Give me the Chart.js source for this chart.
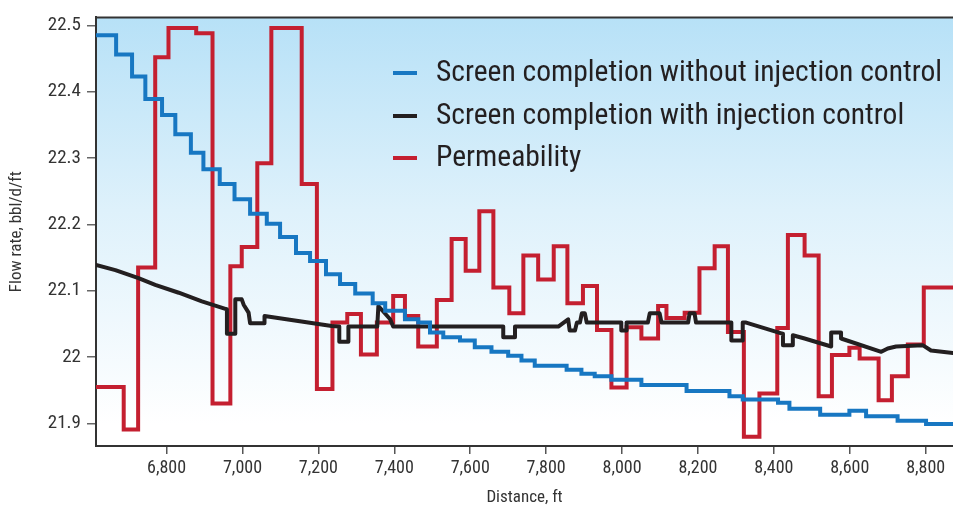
<!DOCTYPE html>
<html><head><meta charset="utf-8">
<script src="https://cdn.jsdelivr.net/npm/chart.js@4.4.1/dist/chart.umd.min.js"></script>
<style>html,body{margin:0;padding:0;background:#fff}canvas{display:block}</style>
</head><body>
<canvas id="c" width="953" height="510"></canvas>
<script>
const X_TICKS = [6800,7000,7200,7400,7600,7800,8000,8200,8400,8600,8800];
const Y_TICKS = [21.9,22,22.1,22.2,22.3,22.4,22.5];
const SERIES_NAMES = ['Screen completion without injection control','Screen completion with injection control','Permeability'];
const X_TITLE = 'Distance, ft';
const Y_TITLE = 'Flow rate, bbl/d/ft';

// Screen completion without injection control (step starts)
const noCtrlX = [6614,6667,6709,6744,6788,6823,6864,6897,6940,6979,7020,7064,7099,7141,7178,7220,7257,7297,7343,7376,7428,7463,7494,7529,7573,7612,7656,7700,7735,7770,7854,7893,7928,7972,8051,8170,8283,8318,8411,8441,8522,8599,8643,8726,8801,8872];
const noCtrlY = [22.485,22.456,22.423,22.389,22.365,22.336,22.308,22.283,22.261,22.238,22.216,22.201,22.181,22.157,22.145,22.125,22.110,22.096,22.081,22.070,22.057,22.052,22.037,22.030,22.025,22.015,22.008,22.002,21.995,21.987,21.981,21.975,21.971,21.966,21.958,21.949,21.941,21.936,21.931,21.922,21.913,21.919,21.911,21.904,21.899,21.899];

// Screen completion with injection control
const ctrlX = [6614,6665,6726,6770,6832,6893,6959,6959,6981,6981,6998,7003,7016,7020,7058,7058,7235,7255,7255,7279,7279,7355,7358,7389,7397,7687,7687,7718,7718,7832,7858,7862,7876,7881,7889,7894,7902,7907,7998,7998,8012,8012,8068,8073,8099,8104,8174,8178,8191,8195,8288,8288,8318,8318,8327,8424,8424,8450,8450,8481,8551,8551,8577,8577,8683,8700,8722,8792,8814,8872];
const ctrlY = [22.139,22.131,22.119,22.109,22.097,22.084,22.072,22.035,22.035,22.087,22.087,22.079,22.067,22.051,22.051,22.062,22.047,22.046,22.023,22.023,22.046,22.046,22.077,22.057,22.046,22.046,22.030,22.030,22.046,22.046,22.057,22.040,22.040,22.052,22.052,22.066,22.066,22.052,22.052,22.040,22.040,22.052,22.052,22.066,22.066,22.052,22.052,22.066,22.066,22.052,22.052,22.025,22.025,22.052,22.052,22.035,22.018,22.018,22.033,22.028,22.016,22.037,22.037,22.028,22.008,22.013,22.016,22.018,22.010,22.006];

// Permeability (step starts, scaled to the flow-rate axis)
const permX = [6614,6687,6725,6770,6805,6878,6921,6968,6998,7039,7076,7156,7196,7237,7276,7312,7354,7397,7428,7463,7512,7551,7588,7624,7661,7703,7740,7779,7820,7856,7897,7934,7972,8012,8051,8095,8117,8165,8204,8244,8279,8321,8362,8409,8437,8481,8518,8553,8599,8626,8676,8711,8753,8795,8872];
const permY = [21.955,21.891,22.135,22.452,22.496,22.488,21.930,22.137,22.166,22.292,22.496,22.261,21.952,22.052,22.065,22.004,22.052,22.092,22.062,22.016,22.086,22.178,22.130,22.220,22.105,22.066,22.153,22.117,22.167,22.081,22.107,22.041,21.954,22.045,22.028,22.077,22.059,22.067,22.134,22.167,22.038,21.880,21.945,22.044,22.184,22.153,21.941,22.003,22.014,21.998,21.935,21.971,22.019,22.105,22.105];

const COLORS = ['#1777c2','#231f20','#c41f30'];
const FONT = '"Liberation Sans Narrow","Arial Narrow","Roboto Condensed","DejaVu Sans Condensed",sans-serif';
const pts = (xs, ys) => xs.map((x, i) => ({x, y: ys[i]}));

const bgPlugin = {
  id: 'bg',
  beforeDraw(chart) {
    const {ctx, chartArea: a} = chart;
    const g = ctx.createLinearGradient(0, a.top, 0, a.bottom);
    g.addColorStop(0, '#b7e1f7');
    g.addColorStop(0.45, '#def1fb');
    g.addColorStop(0.95, '#ffffff');
    ctx.save();
    ctx.fillStyle = g;
    ctx.fillRect(a.left, a.top, a.right - a.left, a.bottom - a.top);
    ctx.restore();
  },
  afterDraw(chart) {
    const {ctx, chartArea: a} = chart;
    ctx.save();
    ctx.strokeStyle = '#333';
    ctx.lineWidth = 2;
    ctx.beginPath();
    ctx.moveTo(a.left - 1, a.top);
    ctx.lineTo(a.right, a.top);
    ctx.stroke();
    // legend
    const rows = [73, 116, 158];
    const textX = 436, targetW = 506;
    ctx.font = '30px ' + FONT;
    const w0 = ctx.measureText(SERIES_NAMES[0]).width;
    const size = Math.min(32, 30 * targetW / w0);
    ctx.font = size.toFixed(2) + 'px ' + FONT;
    ctx.textBaseline = 'middle';
    chart.data.datasets.forEach((ds, i) => {
      ctx.strokeStyle = ds.borderColor;
      ctx.lineWidth = 4;
      ctx.beginPath();
      ctx.moveTo(393, rows[i]);
      ctx.lineTo(417, rows[i]);
      ctx.stroke();
      ctx.fillStyle = '#231f20';
      ctx.fillText(ds.label, textX, rows[i] + 1);
    });
    ctx.restore();
  }
};

new Chart(document.getElementById('c'), {
  type: 'line',
  data: {
    datasets: [
      {label: SERIES_NAMES[0], data: pts(noCtrlX, noCtrlY), borderColor: COLORS[0], borderWidth: 4, stepped: 'before', pointRadius: 0, borderJoinStyle: 'miter'},
      {label: SERIES_NAMES[1], data: pts(ctrlX, ctrlY), borderColor: COLORS[1], borderWidth: 4, tension: 0, pointRadius: 0, borderJoinStyle: 'round', borderCapStyle: 'round'},
      {label: SERIES_NAMES[2], data: pts(permX, permY), borderColor: COLORS[2], borderWidth: 4, stepped: 'before', pointRadius: 0, borderJoinStyle: 'miter'}
    ]
  },
  options: {
    responsive: false,
    animation: false,
    devicePixelRatio: 1,
    layout: {padding: {top: 10, left: 0, right: 0, bottom: 0}},
    plugins: {legend: {display: false}, tooltip: {enabled: false}},
    scales: {
      x: {
        type: 'linear', min: 6614, max: 8872,
        afterFit: s => { s.height = 64; },
        afterBuildTicks: s => { s.ticks = X_TICKS.map(v => ({value: v})); },
        grid: {drawOnChartArea: false, tickLength: 8, color: '#555', lineWidth: 1.5},
        border: {color: '#333', width: 2},
        ticks: {font: {family: FONT, size: 18}, color: '#333', padding: 4, maxRotation: 0,
          callback: v => v.toLocaleString('en-US')},
        title: {display: true, text: X_TITLE, font: {family: FONT, size: 17}, color: '#333', padding: {top: 0, bottom: 2}}
      },
      y: {
        type: 'linear', min: 21.866, max: 22.512,
        afterFit: s => { s.width = 96; },
        afterBuildTicks: s => { s.ticks = Y_TICKS.map(v => ({value: v})); },
        grid: {drawOnChartArea: false, tickLength: 9, color: '#666', lineWidth: 1.5},
        border: {color: '#333', width: 2},
        ticks: {font: {family: FONT, size: 19}, color: '#333', padding: 6,
          callback: v => String(Math.round(v * 10) / 10)},
        title: {display: true, text: Y_TITLE, font: {family: FONT, size: 17}, color: '#333', padding: {top: 7, bottom: 0}}
      }
    }
  },
  plugins: [bgPlugin]
});
</script>
</body></html>
